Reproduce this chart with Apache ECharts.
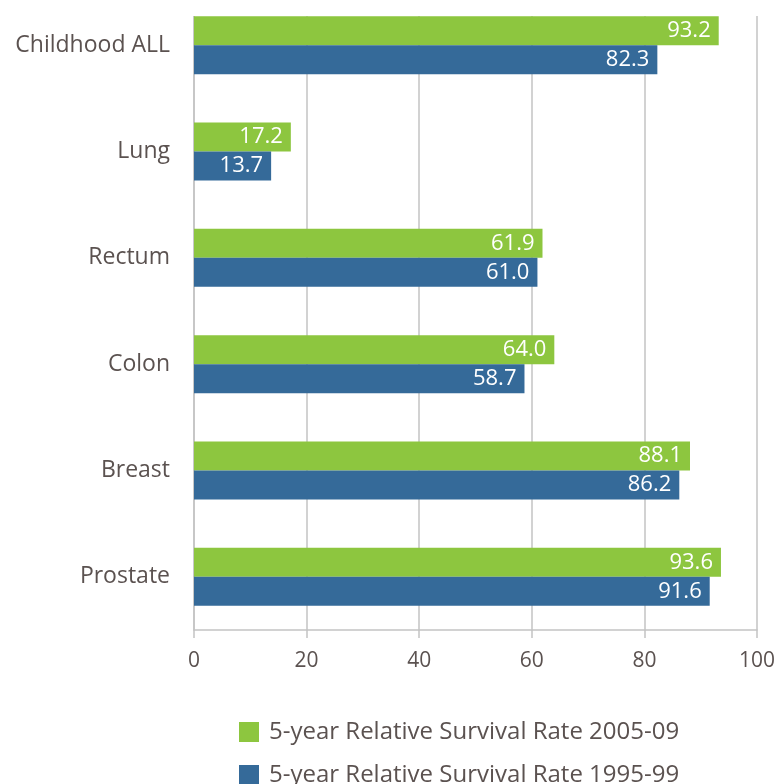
<!DOCTYPE html>
<html>
<head>
<meta charset="utf-8">
<script src="https://cdn.jsdelivr.net/npm/echarts@6/dist/echarts.min.js"></script>
<style>
html, body { margin: 0; padding: 0; background: #fff; }
#main { width: 776px; height: 784px; }
</style>
</head>
<body>
<div id="main"></div>
<script>
var categories = ['Childhood ALL', 'Lung', 'Rectum', 'Colon', 'Breast', 'Prostate'];
var rate2005 = [93.2, 17.2, 61.9, 64.0, 88.1, 93.6];
var rate1995 = [82.3, 13.7, 61.0, 58.7, 86.2, 91.6];
var seriesNames = ['5-year Relative Survival Rate 2005-09', '5-year Relative Survival Rate 1995-99'];
var xTicks = [0, 20, 40, 60, 80, 100];

var textColor = '#5b5250';
var fontName = 'Open Sans';

var myChart = echarts.init(document.getElementById('main'));

var labelStyle = {
    show: true,
    position: 'insideRight',
    distance: 8,
    color: '#fff',
    fontFamily: fontName,
    fontSize: 22,
    formatter: function (p) { return p.value.toFixed(1); }
};

// one legend per row so they stack like the original
function makeLegend(name, top) {
    return {
        left: 239,
        top: top,
        padding: 0,
        itemWidth: 20,
        itemHeight: 20,
        icon: 'rect',
        textStyle: {
            color: textColor,
            fontFamily: fontName,
            fontSize: 24,
            padding: [2, 0, 0, 5]
        },
        data: [name]
    };
}

var option = {
    animation: false,
    grid: {
        left: 194,
        right: 19,
        top: -8,
        bottom: 154,
        outerBoundsMode: 'none'
    },
    legend: [
        makeLegend(seriesNames[0], 720),
        makeLegend(seriesNames[1], 763)
    ],
    xAxis: {
        type: 'value',
        min: xTicks[0],
        max: xTicks[xTicks.length - 1],
        interval: 20,
        axisLine: { show: true, lineStyle: { color: '#c3c3c3', width: 1.5 } },
        axisTick: { show: true, length: 8, lineStyle: { color: '#c3c3c3', width: 1.5 } },
        axisLabel: {
            color: textColor,
            fontFamily: fontName,
            fontSize: 21,
            margin: 21
        },
        splitLine: { show: true, lineStyle: { color: '#c3c3c3', width: 1.5 } }
    },
    yAxis: {
        type: 'category',
        inverse: true,
        data: categories,
        axisLine: { show: true, lineStyle: { color: '#c3c3c3', width: 1.5 } },
        axisTick: { show: false },
        axisLabel: {
            color: textColor,
            fontFamily: fontName,
            fontSize: 23,
            margin: 24,
            padding: [5, 0, 0, 0]
        }
    },
    graphic: [{
        type: 'rect',
        shape: { x: 0, y: 0, width: 776, height: 16 },
        style: { fill: '#fff' },
        z: 100
    }],
    series: [
        {
            name: seriesNames[0],
            type: 'bar',
            data: rate2005,
            barWidth: 29,
            barGap: '0%',
            itemStyle: { color: '#8dc63f' },
            label: labelStyle
        },
        {
            name: seriesNames[1],
            type: 'bar',
            data: rate1995,
            barWidth: 29,
            barGap: '0%',
            itemStyle: { color: '#356a99' },
            label: labelStyle
        }
    ]
};

myChart.setOption(option);
</script>
</body>
</html>
